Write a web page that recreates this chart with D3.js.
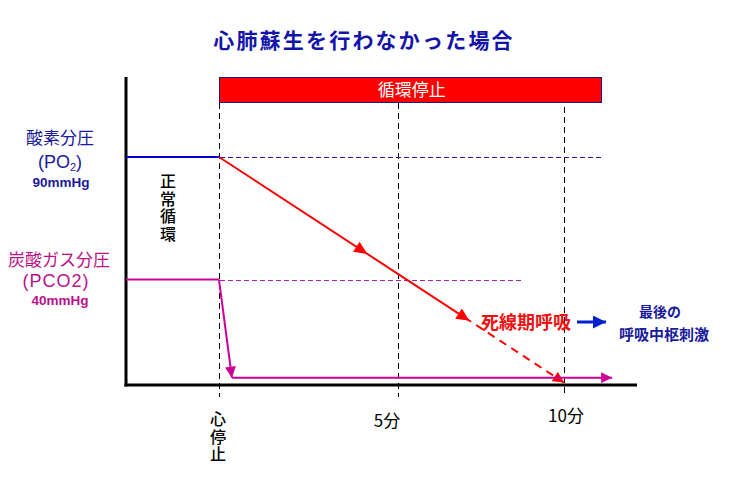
<!DOCTYPE html>
<html><head><meta charset="utf-8">
<script src="https://cdn.jsdelivr.net/npm/d3@7"></script>
<style>
html,body{margin:0;padding:0;background:#fff;}
svg{display:block;font-family:"Noto Sans CJK JP","Noto Sans",sans-serif;}
</style></head>
<body><svg id="c" width="733" height="486"></svg>
<script>
// ---- data ----
const title = "心肺蘇生を行わなかった場合";
const xTickValues = [0, 5, 10];
const xTickLabels = ["心停止", "5分", "10分"];
const po2Before = [[-2.6, 90], [0, 90]];
const po2Solid = [[0, 90], [7, 24.6]];
const po2Dashed = [[7, 24.6], [10, -2]];
const po2Ref = [[0, 90], [11.1, 90]];
const pco2Before = [[-2.6, 40], [0, 40]];
const pco2Drop = [[0, 40], [0.36, 0]];
const pco2Flat = [[0.36, 0], [11.45, 0]];
const pco2Ref = [[0, 40], [8.7, 40]];
const arrestPeriod = [0, 11.1];
const po2ArrowTimes = [4, 7];
const arrestLabel = "循環停止";
const normalLabel = "正常循環";
const agonalLabel = "死線期呼吸";
const lastLabel = ["最後の", "呼吸中枢刺激"];

// ---- scales ----
const x = d3.scaleLinear().domain([-2.6, 0, 5, 10, 12.2]).range([126, 219, 398, 564, 637]);
const y = d3.scaleLinear().domain([-3, 90]).range([385, 157]);
const yTop = 77;

const svg = d3.select("#c");
const navy = "#1a1a9c", blue = "#0000cc", mag = "#cc0099", magText = "#bb1188", red = "#ff0000";
const latin = "'Liberation Sans', Arial, sans-serif";

// markers
const defs = svg.append("defs");
function marker(id, color, w, h) {
  defs.append("marker").attr("id", id).attr("viewBox", "0 0 10 10")
    .attr("refX", 10).attr("refY", 5).attr("markerUnits", "userSpaceOnUse")
    .attr("markerWidth", w).attr("markerHeight", h).attr("orient", "auto")
    .append("path").attr("d", "M0,0L10,5L0,10Z").attr("fill", color);
}
marker("mMag", mag, 12, 11);
marker("mRed", red, 12, 11);
marker("mBlue", "#0022cc", 14, 13);

const line = d3.line().x(d => x(d[0])).y(d => y(d[1]));
const lineCrisp = d3.line().x(d => Math.round(x(d[0])) + 0.5).y(d => Math.round(y(d[1])) + 0.5);

// title
svg.append("text").attr("x", 364).attr("y", 48).attr("text-anchor", "middle")
  .attr("font-size", 21).attr("font-weight", "bold").attr("letter-spacing", 2.2)
  .attr("fill", "#1414aa").text(title);

// red bar
svg.append("rect").attr("x", x(arrestPeriod[0]) + 0.5).attr("y", yTop + 0.5)
  .attr("width", Math.round(x(arrestPeriod[1]) - x(arrestPeriod[0]))).attr("height", 25)
  .attr("fill", red).attr("stroke", "#1a1a8c").attr("stroke-width", 1);
svg.append("text").attr("x", (x(arrestPeriod[0]) + x(arrestPeriod[1])) / 2 + 2).attr("y", 96)
  .attr("text-anchor", "middle").attr("font-size", 17).attr("fill", "#fff").text(arrestLabel);

// vertical dashed gridlines
svg.selectAll(".vg").data(xTickValues).join("line").attr("class", "vg")
  .attr("x1", d => Math.round(x(d)) + 0.5).attr("x2", d => Math.round(x(d)) + 0.5)
  .attr("y1", (d, i) => i === 2 ? 107 : 103).attr("y2", 397)
  .attr("stroke", "#000").attr("stroke-width", 1).attr("stroke-dasharray", "6,4")
  .attr("shape-rendering", "crispEdges");

// reference dashed lines
svg.append("path").attr("d", lineCrisp(po2Ref)).attr("fill", "none").attr("shape-rendering", "crispEdges")
  .attr("stroke", "#1a1aa0").attr("stroke-width", 1).attr("stroke-dasharray", "5,3");
svg.append("path").attr("d", lineCrisp(pco2Ref)).attr("fill", "none").attr("shape-rendering", "crispEdges")
  .attr("stroke", "#aa2299").attr("stroke-width", 1).attr("stroke-dasharray", "5,3");

// axes
svg.append("line").attr("x1", x(-2.6)).attr("x2", x(-2.6)).attr("y1", yTop).attr("y2", 386.5)
  .attr("stroke", "#000").attr("stroke-width", 3);
svg.append("line").attr("x1", x(-2.6) - 1.5).attr("x2", x(12.2)).attr("y1", 385).attr("y2", 385)
  .attr("stroke", "#000").attr("stroke-width", 3);

// PO2 lines
svg.append("path").attr("d", line(po2Before)).attr("fill", "none").attr("stroke", blue).attr("stroke-width", 2);
svg.append("path").attr("d", line(po2Solid)).attr("fill", "none").attr("stroke", red).attr("stroke-width", 2);
svg.append("path").attr("d", line(po2Dashed)).attr("fill", "none").attr("stroke", red).attr("stroke-width", 2)
  .attr("stroke-dasharray", "8,6").attr("marker-end", "url(#mRed)");
// mid arrows on PO2 line
const p0 = [x(po2Solid[0][0]), y(po2Solid[0][1])], p1 = [x(po2Dashed[1][0]), y(po2Dashed[1][1])];
const ang = Math.atan2(p1[1] - p0[1], p1[0] - p0[0]) * 180 / Math.PI;
po2ArrowTimes.forEach(t => {
  const px = x(t), py = p0[1] + (px - p0[0]) * (p1[1] - p0[1]) / (p1[0] - p0[0]);
  svg.append("path").attr("d", "M6,0L-7,-6L-7,6Z").attr("fill", red)
    .attr("transform", `translate(${px},${py}) rotate(${ang})`);
});

// PCO2 lines
svg.append("path").attr("d", line(pco2Before)).attr("fill", "none").attr("stroke", mag).attr("stroke-width", 2);
svg.append("path").attr("d", line(pco2Drop)).attr("fill", "none").attr("stroke", mag).attr("stroke-width", 2)
  .attr("marker-end", "url(#mMag)");
svg.append("path").attr("d", line(pco2Flat)).attr("fill", "none").attr("stroke", mag).attr("stroke-width", 2)
  .attr("marker-end", "url(#mMag)");

// left labels
const lg = svg.append("g").attr("text-anchor", "middle");
lg.append("text").attr("x", 60).attr("y", 144).attr("font-size", 17).attr("fill", navy).text("酸素分圧");
const po2t = lg.append("text").attr("x", 60).attr("y", 168).attr("font-size", 18)
  .attr("font-family", latin).attr("fill", navy);
po2t.append("tspan").text("(PO");
po2t.append("tspan").attr("font-size", 11).attr("dy", 3).text("2");
po2t.append("tspan").attr("dy", -3).text(")");
lg.append("text").attr("x", 61).attr("y", 187).attr("font-size", 13.5).attr("font-family", latin)
  .attr("font-weight", "bold").attr("fill", navy).text("90mmHg");

lg.append("text").attr("x", 59).attr("y", 266).attr("font-size", 17).attr("fill", magText).text("炭酸ガス分圧");
lg.append("text").attr("x", 56).attr("y", 287).attr("font-size", 18).attr("font-family", latin)
  .attr("letter-spacing", 1).attr("fill", magText).text("(PCO2)");
lg.append("text").attr("x", 60).attr("y", 305).attr("font-size", 13.5).attr("font-family", latin)
  .attr("font-weight", "bold").attr("fill", magText).text("40mmHg");

// vertical text helper (single text element, vertical writing mode)
function vtext(str, cx, top, size, color, weight) {
  svg.append("text").attr("x", cx).attr("y", top)
    .attr("writing-mode", "vertical-rl").attr("font-size", size)
    .attr("letter-spacing", 1.5).attr("fill", color).attr("font-weight", weight || "normal")
    .text(str);
}
vtext(normalLabel, 168, 173, 16, "#000", 500);

// x tick labels
vtext(xTickLabels[0], x(xTickValues[0]) - 1, 411, 16, "#000", 500);
svg.append("text").attr("x", x(xTickValues[1]) - 11).attr("y", 427).attr("text-anchor", "middle")
  .attr("font-size", 17).text(xTickLabels[1]);
svg.append("text").attr("x", x(xTickValues[2]) + 2).attr("y", 422).attr("text-anchor", "middle")
  .attr("font-size", 17).text(xTickLabels[2]);

// agonal breathing annotation
svg.append("text").attr("x", 526).attr("y", 329).attr("text-anchor", "middle").attr("font-size", 18)
  .attr("font-weight", "bold").attr("fill", "#ee1111").text(agonalLabel);
svg.append("line").attr("x1", 577).attr("x2", 606).attr("y1", 322).attr("y2", 322)
  .attr("stroke", "#0022cc").attr("stroke-width", 3).attr("marker-end", "url(#mBlue)");
svg.append("text").attr("x", 660).attr("y", 317).attr("text-anchor", "middle").attr("font-size", 14)
  .attr("font-weight", "bold").attr("fill", navy).text(lastLabel[0]);
svg.append("text").attr("x", 664).attr("y", 340).attr("text-anchor", "middle").attr("font-size", 15)
  .attr("font-weight", "bold").attr("fill", navy).text(lastLabel[1]);
</script></body></html>
